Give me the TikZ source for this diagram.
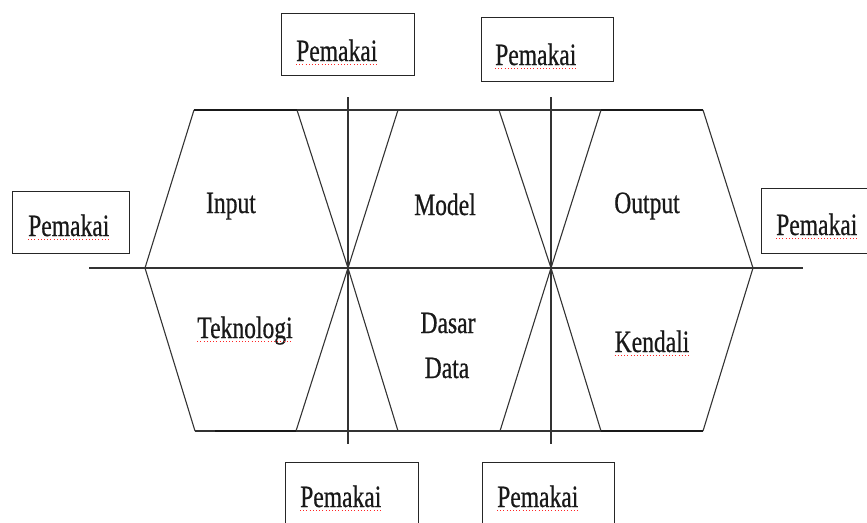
\documentclass[tikz,border=0pt]{standalone}
\usepackage{fontspec}
\setmainfont{Liberation Serif}[FakeStretch=0.76,FakeBold=0.6]
\begin{document}
\begin{tikzpicture}[x=1pt,y=-1pt,
  ln/.style={line width=1.1pt, draw=black!80},
  thk/.style={line width=2.8pt, draw=black!90},
  pbox/.style={draw=black!85, line width=1.2pt, rectangle, inner sep=0pt, anchor=north west},
  lbl/.style={inner sep=0pt, text=black!90, font=\fontsize{31}{36}\selectfont},
  squig/.style={draw=red!85, line width=0.9pt, dash pattern=on 1pt off 2.2pt}]
\useasboundingbox (0,0) rectangle (867,522);
% geometry points
\coordinate (TL) at (194,110);
\coordinate (TR) at (703,110);
\coordinate (BL) at (195,431);
\coordinate (BR) at (703,431);
\coordinate (ML) at (89,268);
\coordinate (MR) at (803,268);
\coordinate (LV) at (145,268);
\coordinate (RV) at (753,268);
\coordinate (X1) at (348,268);
\coordinate (X2) at (551,268);
\coordinate (T1a) at (297,110);
\coordinate (T1b) at (398,110);
\coordinate (T2a) at (499,110);
\coordinate (T2b) at (601,110);
\coordinate (B1a) at (296,431);
\coordinate (B1b) at (398,431);
\coordinate (B2a) at (500,431);
\coordinate (B2b) at (601,431);
\coordinate (V1t) at (348,97);
\coordinate (V1b) at (348,444);
\coordinate (V2t) at (551,97);
\coordinate (V2b) at (551,444);
\coordinate (BLk) at (215,431);
% lines
\draw[ln] (ML) -- (MR);
\draw[ln] (TL) -- (TR);
\draw[ln] (BL) -- (BR);
\draw[ln] (V1t) -- (V1b);
\draw[ln] (V2t) -- (V2b);
\draw[ln] (TL) -- (LV) -- (BL);
\draw[ln] (TR) -- (RV) -- (BR);
\draw[ln] (T1a) -- (X1) -- (B1b);
\draw[ln] (T1b) -- (X1) -- (B1a);
\draw[ln] (T2a) -- (X2) -- (B2b);
\draw[ln] (T2b) -- (X2) -- (B2a);
\draw[thk] (TL) -- (T1a);
\draw[thk] (T2b) -- (TR);
\draw[thk] (BLk) -- (B1a);
\draw[thk] (B2b) -- (BR);
% boxes
\node[pbox, minimum width=133pt, minimum height=62pt] (p1) at (281,13) {};
\node[pbox, minimum width=132pt, minimum height=64pt] (p2) at (481,17) {};
\node[pbox, minimum width=117pt, minimum height=62pt] (p3) at (12,191) {};
\node[pbox, minimum width=120pt, minimum height=65pt] (p4) at (761,188) {};
\node[pbox, minimum width=133pt, minimum height=70pt] (p5) at (285,462) {};
\node[pbox, minimum width=132pt, minimum height=70pt] (p6) at (482,462) {};
% box texts
\node[lbl, anchor=base west] (q1) at (296,61) {Pemakai};
\node[lbl, anchor=base west] (q2) at (495,65) {Pemakai};
\node[lbl, anchor=base west] (q3) at (28,236) {Pemakai};
\node[lbl, anchor=base west] (q4) at (776,235) {Pemakai};
\node[lbl, anchor=base west] (q5) at (300,507) {Pemakai};
\node[lbl, anchor=base west] (q6) at (497,507) {Pemakai};
% region labels
\node[lbl, anchor=base] (input) at (231,213) {Input};
\node[lbl, anchor=base] (model) at (445,215) {Model};
\node[lbl, anchor=base] (output) at (647,213) {Output};
\node[lbl, anchor=base] (tekno) at (245,338) {Teknologi};
\node[lbl, anchor=base] (dasar) at (448,333) {Dasar};
\node[lbl, anchor=base] (data) at (447,378) {Data};
\node[lbl, anchor=base] (kendali) at (652,352) {Kendali};
% spell-check underlines
\foreach \n in {q1,q2,q3,q4,q5,q6,tekno,kendali}
  \draw[squig] ([yshift=-3pt]\n.base west) -- ([yshift=-3pt]\n.base east);
\end{tikzpicture}
\end{document}
